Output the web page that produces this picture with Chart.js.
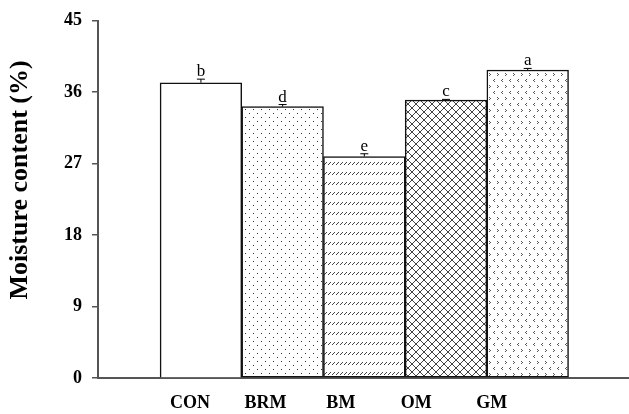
<!DOCTYPE html>
<html>
<head>
<meta charset="utf-8">
<script src="https://cdn.jsdelivr.net/npm/chart.js@4"></script>
<style>
  html, body { margin: 0; padding: 0; background: #fff; }
  #wrap { width: 629px; height: 414px; }
</style>
</head>
<body>
<div id="wrap"><canvas id="chart"></canvas></div>
<script>
const categories = ['CON', 'BRM', 'BM', 'OM', 'GM'];
const moisture = [37.2, 34.2, 27.9, 35.0, 38.8];
const errors = [0.45, 0.25, 0.35, 0.1, 0.2];
const letters = ['b', 'd', 'e', 'c', 'a'];
const yTicks = [0, 9, 18, 27, 36, 45];

// fill patterns for the bars
function makePattern(w, h, draw) {
  const c = document.createElement('canvas');
  c.width = w; c.height = h;
  const g = c.getContext('2d');
  g.fillStyle = '#fff';
  g.fillRect(0, 0, w, h);
  draw(g);
  return g.createPattern(c, 'repeat');
}
function px(g, pts) { pts.forEach(p => g.fillRect(p[0], p[1], 1, 1)); }

const dots = makePattern(8, 8, g => {
  g.fillStyle = '#333';
  px(g, [[1, 1], [5, 5]]);
});
const slashes = makePattern(4, 10, g => {
  g.fillStyle = '#444';
  px(g, [[0, 4], [1, 3], [2, 2]]);
});
const cross = makePattern(8, 8, g => {
  g.strokeStyle = '#444';
  g.lineWidth = 1;
  g.beginPath();
  g.moveTo(0, 0); g.lineTo(8, 8);
  g.moveTo(8, 0); g.lineTo(0, 8);
  g.stroke();
});
const chevrons = makePattern(8, 12, g => {
  g.fillStyle = '#555';
  px(g, [[1, 1], [2, 2], [1, 3]]);
  px(g, [[6, 7], [5, 8], [6, 9]]);
});
const fills = ['#fff', dots, slashes, cross, chevrons];

const extras = {
  id: 'extras',
  afterDatasetsDraw(chart) {
    const ctx = chart.ctx;
    const y = chart.scales.y;
    const meta = chart.getDatasetMeta(0);
    ctx.save();
    meta.data.forEach((bar, i) => {
      const top = y.getPixelForValue(moisture[i]);
      const cap = y.getPixelForValue(moisture[i] + errors[i]);
      ctx.strokeStyle = '#000';
      ctx.lineWidth = 1;
      ctx.beginPath();
      ctx.moveTo(bar.x, top); ctx.lineTo(bar.x, cap);
      ctx.moveTo(bar.x - 4, cap); ctx.lineTo(bar.x + 4, cap);
      ctx.stroke();
      ctx.fillStyle = '#000';
      ctx.font = '17px "Liberation Serif"';
      ctx.textAlign = 'center';
      ctx.textBaseline = 'alphabetic';
      ctx.fillText(letters[i], bar.x, cap - 3);
    });
    // y axis title
    ctx.translate(20, 180);
    ctx.rotate(-Math.PI / 2);
    ctx.font = 'bold 26px "Liberation Serif"';
    ctx.textAlign = 'center';
    ctx.textBaseline = 'middle';
    ctx.fillText('Moisture content (%)', 0, 0);
    ctx.restore();
  }
};

new Chart(document.getElementById('chart'), {
  type: 'bar',
  data: {
    datasets: [{
      data: moisture.map((v, i) => ({ x: i, y: v })),
      backgroundColor: fills,
      borderColor: '#111',
      borderWidth: 1.5,
      borderSkipped: c => c.dataIndex === 0 ? 'bottom' : false,
      barThickness: 'flex',
      barPercentage: 1,
      categoryPercentage: 1
    }]
  },
  options: {
    responsive: true,
    maintainAspectRatio: false,
    animation: false,
    layout: { padding: { top: 16, left: 0, right: 0, bottom: 0 } },
    plugins: { legend: { display: false }, tooltip: { enabled: false } },
    scales: {
      x: {
        type: 'linear',
        offset: false,
        min: -1.26,
        max: 5.24,
        afterBuildTicks: s => { s.ticks = categories.map((c, i) => ({ value: -0.135 + 0.924 * i })); },
        afterFit: s => { s.height = 36; },
        grid: { display: false, offset: false },
        border: { color: '#555', width: 2 },
        ticks: {
          padding: 7,
          color: '#000',
          font: { family: '"Liberation Serif"', size: 18, weight: 'bold' },
          callback: (v, i) => categories[i]
        }
      },
      y: {
        min: 0,
        max: 45,
        afterBuildTicks: s => { s.ticks = yTicks.map(v => ({ value: v })); },
        afterFit: s => { s.width = 98; },
        grid: { drawOnChartArea: false, tickLength: 6, color: '#555', lineWidth: 1.5 },
        border: { color: '#555', width: 2 },
        ticks: {
          padding: 10,
          color: '#000',
          font: { family: '"Liberation Serif"', size: 18, weight: 'bold' }
        }
      }
    }
  },
  plugins: [extras]
});
</script>
</body>
</html>
